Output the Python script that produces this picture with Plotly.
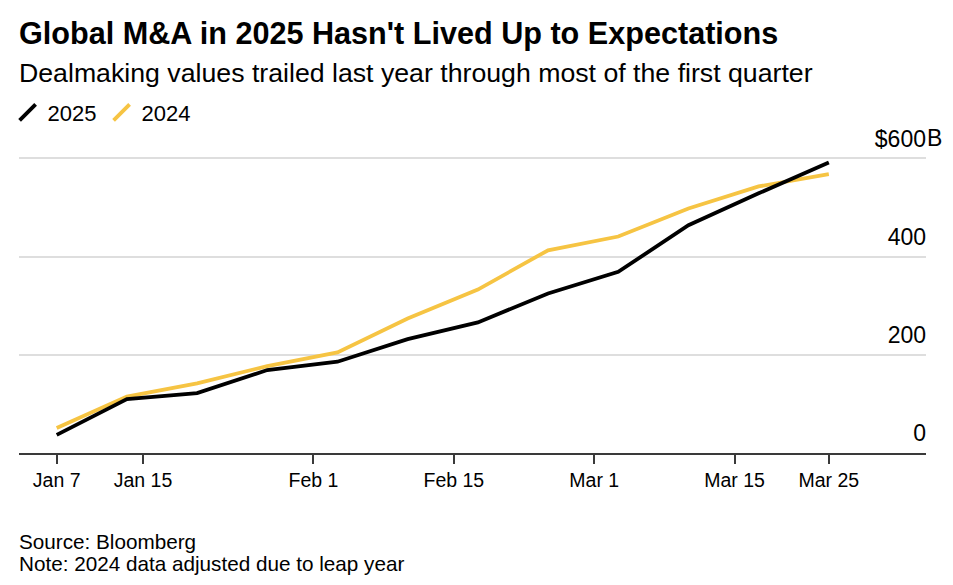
import plotly.graph_objects as go
import pandas as pd

# ---------------- data ----------------
dates = ["2025-01-07", "2025-01-14", "2025-01-21", "2025-01-28", "2025-02-04", "2025-02-11",
         "2025-02-18", "2025-02-25", "2025-03-04", "2025-03-11", "2025-03-18", "2025-03-25"]
v2025 = [37, 110, 122, 169, 186, 232, 266, 325, 369, 464, 529, 592]
v2024 = [51, 115, 142, 177, 205, 274, 333, 413, 441, 498, 543, 568]

tick_dates = ["2025-01-07", "2025-01-15", "2025-02-01", "2025-02-15", "2025-03-01", "2025-03-15", "2025-03-25"]
tick_labels = ["Jan 7", "Jan 15", "Feb 1", "Feb 15", "Mar 1", "Mar 15", "Mar 25"]
y_ticks = [0, 200, 400, 600]
y_labels = ["0", "200", "400", "$600"]

# ---------------- layout constants ----------------
W, H = 953, 585
Y_TOP = 603                      # a little headroom so the 600 gridline is drawn
PX_PER_UNIT = 295 / 600
BOTTOM_PX = 453
L, R = 19, 27
B = H - BOTTOM_PX
T = BOTTOM_PX - Y_TOP * PX_PER_UNIT
PH = H - T - B
FONT = "Liberation Sans, Arial, sans-serif"
BLACK = "#000000"
YELLOW = "#F6C443"
AXIS = "#3a3a3a"
GRID = "#dedede"

def py(ypx):
    return (H - B - ypx) / PH

# middle ticks sit about 14.5h after midnight relative to data points
tv = []
for i, d in enumerate(tick_dates):
    t = pd.Timestamp(d)
    if 0 < i < len(tick_dates) - 1:
        t = t + pd.Timedelta(hours=14.5)
    tv.append(t)

x0 = pd.Timestamp(dates[0]) - pd.Timedelta(days=3.76)
x1 = x0 + pd.Timedelta(days=90.45)

fig = go.Figure()
fig.add_trace(go.Scatter(x=dates, y=v2024, mode="lines", name="2024",
                         line=dict(color=YELLOW, width=3.8), showlegend=False,
                         hoverinfo="skip"))
fig.add_trace(go.Scatter(x=dates, y=v2025, mode="lines", name="2025",
                         line=dict(color=BLACK, width=3.8), showlegend=False,
                         hoverinfo="skip"))
# legend entries with diagonal swatches
fig.add_trace(go.Scatter(x=[None], y=[None], mode="markers", name="2025",
                         marker=dict(symbol="line-ne", size=16, color=BLACK,
                                     line=dict(color=BLACK, width=3.8))))
fig.add_trace(go.Scatter(x=[None], y=[None], mode="markers", name="2024",
                         marker=dict(symbol="line-ne", size=16, color=YELLOW,
                                     line=dict(color=YELLOW, width=3.8))))

fig.update_layout(
    width=W, height=H,
    margin=dict(l=L, r=R, t=T, b=B, pad=0, autoexpand=False),
    paper_bgcolor="white", plot_bgcolor="white",
    font=dict(family=FONT, color="#000000"),
    showlegend=True,
    legend=dict(orientation="h", xref="container", yref="container",
                x=0.008, y=1 - 112.5 / H, xanchor="left", yanchor="middle",
                font=dict(size=22, family=FONT), itemwidth=30,
                bgcolor="rgba(0,0,0,0)", tracegroupgap=0),
    xaxis=dict(type="date", range=[x0, x1], tickvals=tv, ticktext=tick_labels,
               showgrid=False, zeroline=False, showline=True, linecolor=AXIS, linewidth=2,
               ticks="outside", ticklen=9, tickwidth=1.5, tickcolor=AXIS, automargin=False,
               tickfont=dict(size=19.5, family=FONT, color="#000"), fixedrange=True),
    yaxis=dict(range=[0, Y_TOP], tickvals=y_ticks, ticktext=y_labels, side="right",
               ticklabelposition="inside", ticklabelshift=-20, ticklabelstandoff=-3,
               ticklabeloverflow="allow", automargin=False,
               showgrid=True, gridcolor=GRID, gridwidth=1.6, zeroline=False,
               showline=False, ticks="", tickfont=dict(size=23, family=FONT, color="#000"),
               fixedrange=True),
)

annos = [
    dict(text="<b>Global M&A in 2025 Hasn't Lived Up to Expectations</b>", size=30.6, y=33),
    dict(text="Dealmaking values trailed last year through most of the first quarter", size=26.7, y=72),
    dict(text="Source: Bloomberg", size=20.7, y=541.5),
    dict(text="Note: 2024 data adjusted due to leap year", size=20.7, y=564),
]
for a in annos:
    fig.add_annotation(text=a["text"], xref="paper", yref="paper", x=0, y=py(a["y"]),
                       xanchor="left", yanchor="middle", showarrow=False, xshift=-2,
                       font=dict(size=a["size"], family=FONT, color="#000"))

fig.add_annotation(text="B", xref="paper", yref="y", x=1, y=600, xanchor="left",
                   yanchor="middle", showarrow=False, yshift=20, xshift=-1,
                   font=dict(size=23, family=FONT, color="#000"))

fig.write_html("out.html", config={"displayModeBar": False},
               post_script="document.body.style.margin='0';")
